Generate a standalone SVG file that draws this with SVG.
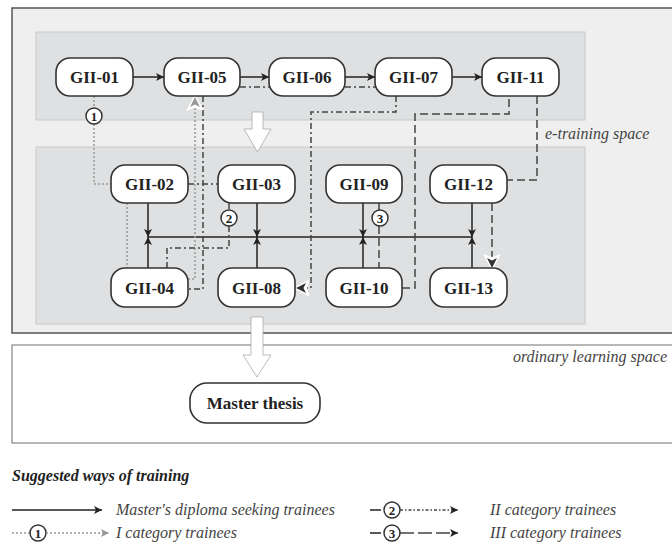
<svg xmlns="http://www.w3.org/2000/svg" width="672" height="551" viewBox="0 0 672 551">
<style>
.node rect{fill:#fff;stroke:#333;stroke-width:1.6}
.node text{font-family:"Liberation Serif","Times New Roman",Times,"DejaVu Serif",serif;font-weight:bold;font-size:17px;fill:#222;text-anchor:middle}
.solid{fill:none;stroke:#222;stroke-width:1.5}
.dd{fill:none;stroke:#444;stroke-width:1.5;stroke-dasharray:6 3 2 3}
.ds{fill:none;stroke:#444;stroke-width:1.5;stroke-dasharray:8 4}
.dt{fill:none;stroke:#999;stroke-width:1.5;stroke-dasharray:2 2}
.circ circle{fill:#fff;stroke:#333;stroke-width:1.5}
.circ text{font-family:"Liberation Serif","Times New Roman",Times,"DejaVu Serif",serif;font-weight:bold;font-size:13px;fill:#222;text-anchor:middle}
.lbl{font-family:"Liberation Serif","Times New Roman",Times,"DejaVu Serif",serif;font-style:italic;font-size:16px;fill:#444}
.ttl{font-family:"Liberation Serif","Times New Roman",Times,"DejaVu Serif",serif;font-style:italic;font-weight:bold;font-size:16px;fill:#222}
.block{fill:#fff;stroke:#aaa;stroke-width:0.8}
</style>
<defs>
<marker id="ah" viewBox="0 0 10 10" refX="10" refY="5" markerWidth="10" markerHeight="8" markerUnits="userSpaceOnUse" orient="auto">
<path d="M0,0 L10,5 L0,10 L2.5,5 z" fill="#222"/>
</marker>
<marker id="ahw" viewBox="-4 -4 16 18" refX="10" refY="5" markerWidth="16" markerHeight="18" markerUnits="userSpaceOnUse" orient="auto" overflow="visible">
<path d="M-4,-4 L13,5 L-4,14 L-1,5 z" fill="#fff"/>
<path d="M0,0 L10,5 L0,10 L2.5,5 z" fill="#333"/>
</marker>
<marker id="ahg" viewBox="-4 -4 16 18" refX="10" refY="5" markerWidth="16" markerHeight="18" markerUnits="userSpaceOnUse" orient="auto" overflow="visible">
<path d="M-4,-4 L13,5 L-4,14 L-1,5 z" fill="#fff"/>
<path d="M0,0 L10,5 L0,10 L2.5,5 z" fill="#999"/>
</marker>
<marker id="ahgl" viewBox="0 0 10 10" refX="10" refY="5" markerWidth="10" markerHeight="8" markerUnits="userSpaceOnUse" orient="auto">
<path d="M0,0 L10,5 L0,10 L2.5,5 z" fill="#999"/>
</marker>
</defs>

<g id="spaces">
<rect x="12" y="8" width="664" height="325" fill="#efefef" stroke="#555" stroke-width="1.5"/>
<rect x="36" y="32" width="549" height="88" fill="#dfe0e2" stroke="#c9c9c9" stroke-width="1"/>
<rect x="36" y="147" width="549" height="177" fill="#dfe0e2" stroke="#c9c9c9" stroke-width="1"/>
<text class="lbl" x="545" y="139" font-size="17">e-training space</text>
<rect x="12" y="345" width="664" height="98" fill="#fff" stroke="#888" stroke-width="1.2"/>
<text class="lbl" x="667" y="362" font-size="17" text-anchor="end">ordinary learning space</text>
<polygon class="block" points="252,112 263,112 263,129 271,129 257.5,152 244,129 252,129"/>
<polygon class="block" points="251,317 263,317 263,355 271,355 257,377 243,355 251,355"/>
</g>

<g id="connectors">
<line class="solid" x1="133" y1="77" x2="164" y2="77" marker-end="url(#ah)"/>
<line class="solid" x1="240" y1="77" x2="269" y2="77" marker-end="url(#ah)"/>
<line class="solid" x1="345" y1="77" x2="375" y2="77" marker-end="url(#ah)"/>
<line class="solid" x1="452" y1="77" x2="482" y2="77" marker-end="url(#ah)"/>
<line class="solid" x1="148" y1="237" x2="472" y2="237"/>
<line class="solid" x1="148" y1="203" x2="148" y2="237" marker-end="url(#ah)"/>
<line class="solid" x1="148" y1="268" x2="148" y2="237" marker-end="url(#ah)"/>
<line class="solid" x1="257" y1="203" x2="257" y2="237" marker-end="url(#ah)"/>
<line class="solid" x1="257" y1="268" x2="257" y2="237" marker-end="url(#ah)"/>
<line class="solid" x1="363" y1="203" x2="363" y2="237" marker-end="url(#ah)"/>
<line class="solid" x1="363" y1="268" x2="363" y2="237" marker-end="url(#ah)"/>
<line class="solid" x1="472" y1="203" x2="472" y2="237" marker-end="url(#ah)"/>
<line class="solid" x1="472" y1="268" x2="472" y2="237" marker-end="url(#ah)"/>
<line class="dt" x1="94" y1="96" x2="94" y2="108"/>
<polyline class="dt" points="94,124 94,184 111,184"/>
<line class="dt" x1="127" y1="203" x2="127" y2="268"/>
<polyline class="dt" points="188,279 195,279 195,97" marker-end="url(#ahg)"/>
<line class="dd" x1="188" y1="184" x2="218" y2="184"/>
<line class="dd" x1="229" y1="203" x2="229" y2="210"/>
<polyline class="dd" points="229,226 229,248 167,248 167,268"/>
<polyline class="dd" points="203,96 203,289 188,289"/>
<line class="dd" x1="240" y1="87" x2="270" y2="87"/>
<line class="dd" x1="345" y1="87" x2="376" y2="87"/>
<polyline class="dd" points="396,96 396,112 311,112 311,288 296,288" marker-end="url(#ahw)"/>
<line class="ds" x1="379" y1="203" x2="379" y2="210"/>
<line class="ds" x1="379" y1="226" x2="379" y2="268"/>
<polyline class="ds" points="402,288 415,288 415,114 509,114 509,96"/>
<polyline class="ds" points="537,96 537,180 507,180"/>
<line class="ds" x1="492" y1="203" x2="492" y2="268" marker-end="url(#ahw)"/>
</g>

<g id="c1" class="circ"><circle cx="94" cy="116" r="8"/><text x="94" y="120.5">1</text></g>
<g id="c2" class="circ"><circle cx="229" cy="218" r="8"/><text x="229" y="222.5">2</text></g>
<g id="c3" class="circ"><circle cx="380" cy="218" r="8"/><text x="380" y="222.5">3</text></g>

<g id="GII-01" class="node"><rect x="56" y="58" width="77" height="38" rx="14"/><text x="94.5" y="83">GII-01</text></g>
<g id="GII-05" class="node"><rect x="164" y="58" width="76" height="38" rx="14"/><text x="202" y="83">GII-05</text></g>
<g id="GII-06" class="node"><rect x="269" y="58" width="76" height="38" rx="14"/><text x="307" y="83">GII-06</text></g>
<g id="GII-07" class="node"><rect x="375" y="58" width="77" height="38" rx="14"/><text x="413.5" y="83">GII-07</text></g>
<g id="GII-11" class="node"><rect x="482" y="58" width="77" height="38" rx="14"/><text x="520.5" y="83">GII-11</text></g>

<g id="GII-02" class="node"><rect x="111" y="165" width="77" height="38" rx="14"/><text x="149.5" y="190">GII-02</text></g>
<g id="GII-03" class="node"><rect x="218" y="165" width="77" height="38" rx="14"/><text x="256.5" y="190">GII-03</text></g>
<g id="GII-09" class="node"><rect x="326" y="165" width="76" height="38" rx="14"/><text x="364" y="190">GII-09</text></g>
<g id="GII-12" class="node"><rect x="430" y="165" width="77" height="38" rx="14"/><text x="468.5" y="190">GII-12</text></g>

<g id="GII-04" class="node"><rect x="111" y="268" width="77" height="39" rx="14"/><text x="149.5" y="293.5">GII-04</text></g>
<g id="GII-08" class="node"><rect x="218" y="268" width="77" height="39" rx="14"/><text x="256.5" y="293.5">GII-08</text></g>
<g id="GII-10" class="node"><rect x="326" y="268" width="76" height="39" rx="14"/><text x="364" y="293.5">GII-10</text></g>
<g id="GII-13" class="node"><rect x="430" y="268" width="77" height="39" rx="14"/><text x="468.5" y="293.5">GII-13</text></g>

<g id="Master-thesis" class="node"><rect x="190" y="383" width="130" height="40" rx="17"/><text x="255" y="409" font-size="16">Master thesis</text></g>

<g id="legend">
<text class="ttl" x="12" y="481">Suggested ways of training</text>
<line class="solid" x1="12" y1="510" x2="102" y2="510" marker-end="url(#ah)"/>
<text class="lbl" x="116" y="515">Master's diploma seeking trainees</text>
<line class="dt" x1="12" y1="533" x2="30" y2="533"/>
<g class="circ"><circle cx="38" cy="533" r="8"/><text x="38" y="537.5">1</text></g>
<line class="dt" x1="46" y1="533" x2="109" y2="533" marker-end="url(#ahgl)"/>
<text class="lbl" x="116" y="538">I category trainees</text>
<line class="solid" stroke="#333" x1="370" y1="510" x2="381" y2="510"/>
<g class="circ"><circle cx="392" cy="510" r="8"/><text x="392" y="514.5">2</text></g>
<line class="dd" style="stroke-dasharray:3 2 1.5 2" x1="400" y1="510" x2="458" y2="510" marker-end="url(#ah)"/>
<text class="lbl" x="490" y="515">II category trainees</text>
<line class="solid" stroke="#333" x1="370" y1="533" x2="381" y2="533"/>
<g class="circ"><circle cx="392" cy="533" r="8"/><text x="392" y="537.5">3</text></g>
<line class="ds" style="stroke-dasharray:14 4" x1="400" y1="533" x2="458" y2="533" marker-end="url(#ah)"/>
<text class="lbl" x="490" y="538">III category trainees</text>
</g>
</svg>
